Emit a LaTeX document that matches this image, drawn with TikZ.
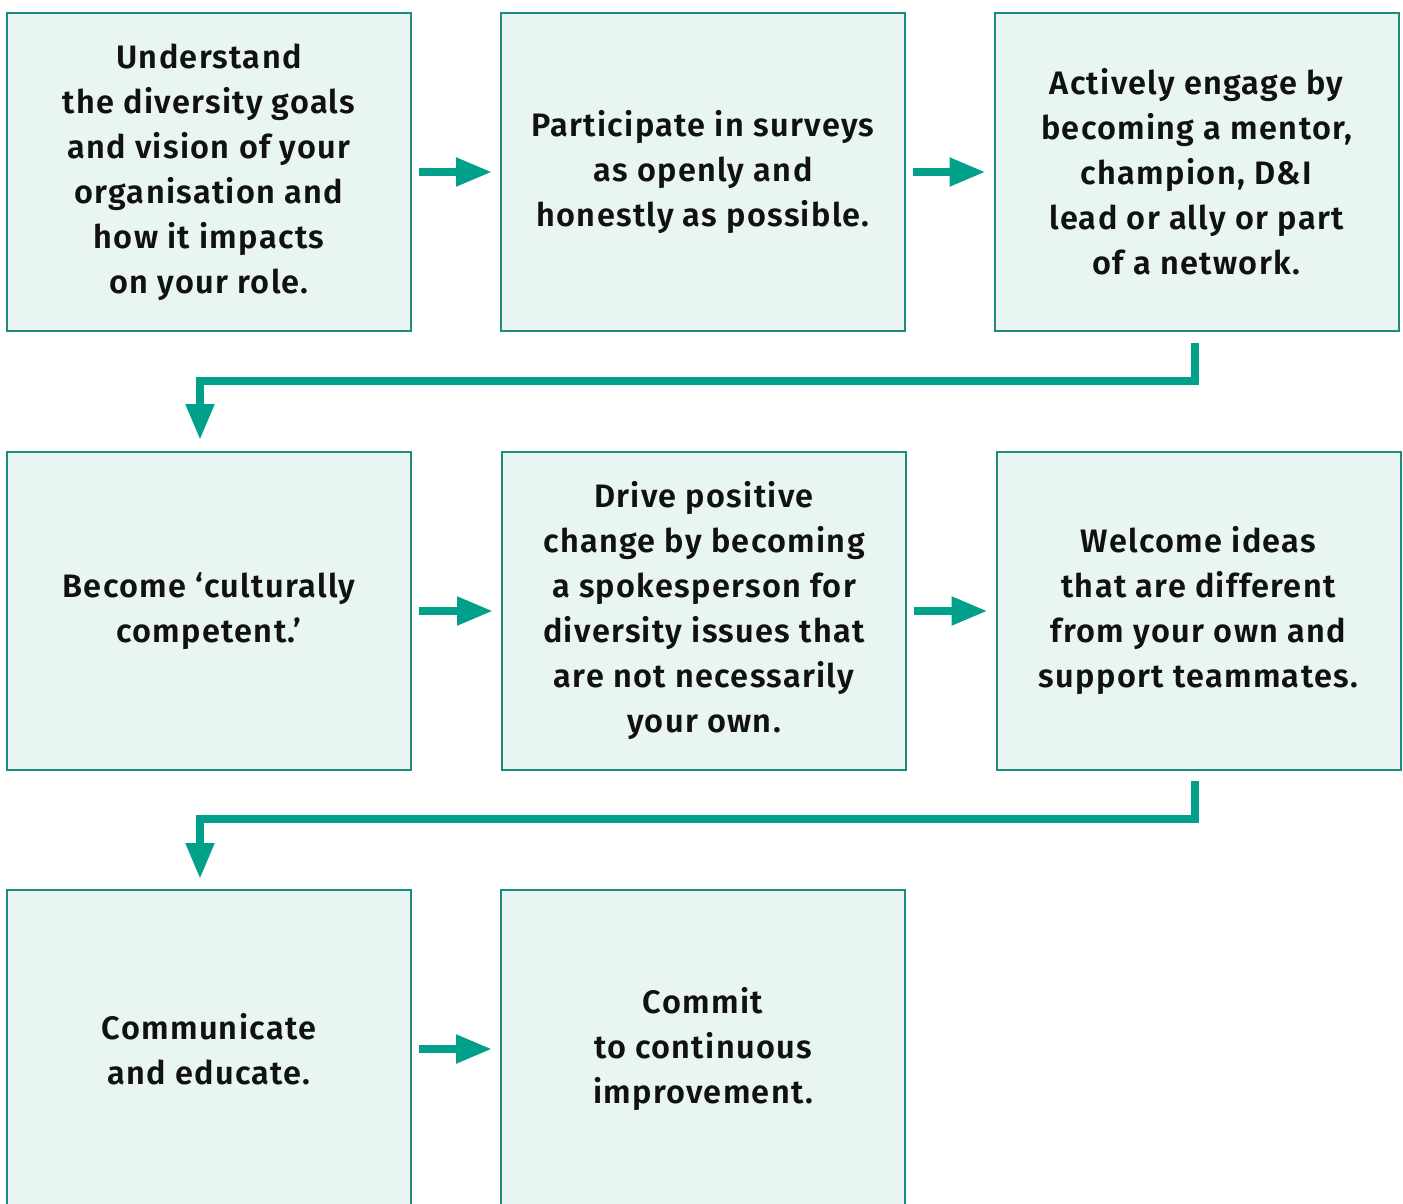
\documentclass[tikz,border=0pt]{standalone}
\usepackage{fontspec}
\setmainfont{Fira Sans}[LetterSpace=4, BoldFont={Fira Sans SemiBold}]
\usetikzlibrary{arrows.meta}
\definecolor{boxfill}{HTML}{E8F5F2}
\definecolor{boxline}{HTML}{1E8C7C}
\definecolor{arrowc}{HTML}{00A08A}
\definecolor{txt}{HTML}{111111}
\begin{document}
\begin{tikzpicture}[x=1pt,y=-1pt,
  box/.style={draw=boxline, line width=2pt, fill=boxfill, minimum width=404pt, minimum height=318pt,
    inner sep=0pt, align=center, text=txt, font=\fontsize{32.5}{45}\selectfont\bfseries},
  conn/.style={draw=arrowc, line width=8pt, -{Triangle[length=36pt,width=27pt]}}]
\useasboundingbox (0,0) rectangle (1403,1203);
\clip (0,0) rectangle (1403,1203);
\node[box] (A) at (209,172) {Understand\\the diversity goals\\and vision of your\\organisation and\\how it impacts\\on your role.};
\node[box] (B) at (703,172) {Participate in surveys\\as openly and\\honestly as possible.};
\node[box] (C) at (1196.5,172) {Actively engage by\\becoming a mentor,\\champion, D\&I\\lead or ally or part\\of a network.};
\node[box] (D) at (209,611) {Become ‘culturally\\competent.’};
\node[box] (E) at (704,611) {Drive positive\\change by becoming\\a spokesperson for\\diversity issues that\\are not necessarily\\your own.};
\node[box] (F) at (1198.5,611) {Welcome ideas\\that are different\\from your own and\\support teammates.};
\node[box] (G) at (209,1049) {Communicate\\and educate.};
\node[box] (H) at (703,1049) {Commit\\to continuous\\improvement.};
\draw[conn, shorten <=7pt, shorten >=8pt] (A) -- (B);
\draw[conn, shorten <=7pt, shorten >=8pt] (B) -- (C);
\draw[conn, shorten <=7pt, shorten >=8pt] (D) -- (E);
\draw[conn, shorten <=7pt, shorten >=8pt] (E) -- (F);
\draw[conn, shorten <=7pt, shorten >=8pt] (G) -- (H);
\draw[conn] ([xshift=-1.5pt,yshift=-11pt]C.south) -- ++(0,37.5) -| ([xshift=-9pt,yshift=11pt]D.north);
\draw[conn] ([xshift=-3.5pt,yshift=-10pt]F.south) -- ++(0,38) -| ([xshift=-9pt,yshift=10pt]G.north);
\end{tikzpicture}
\end{document}
